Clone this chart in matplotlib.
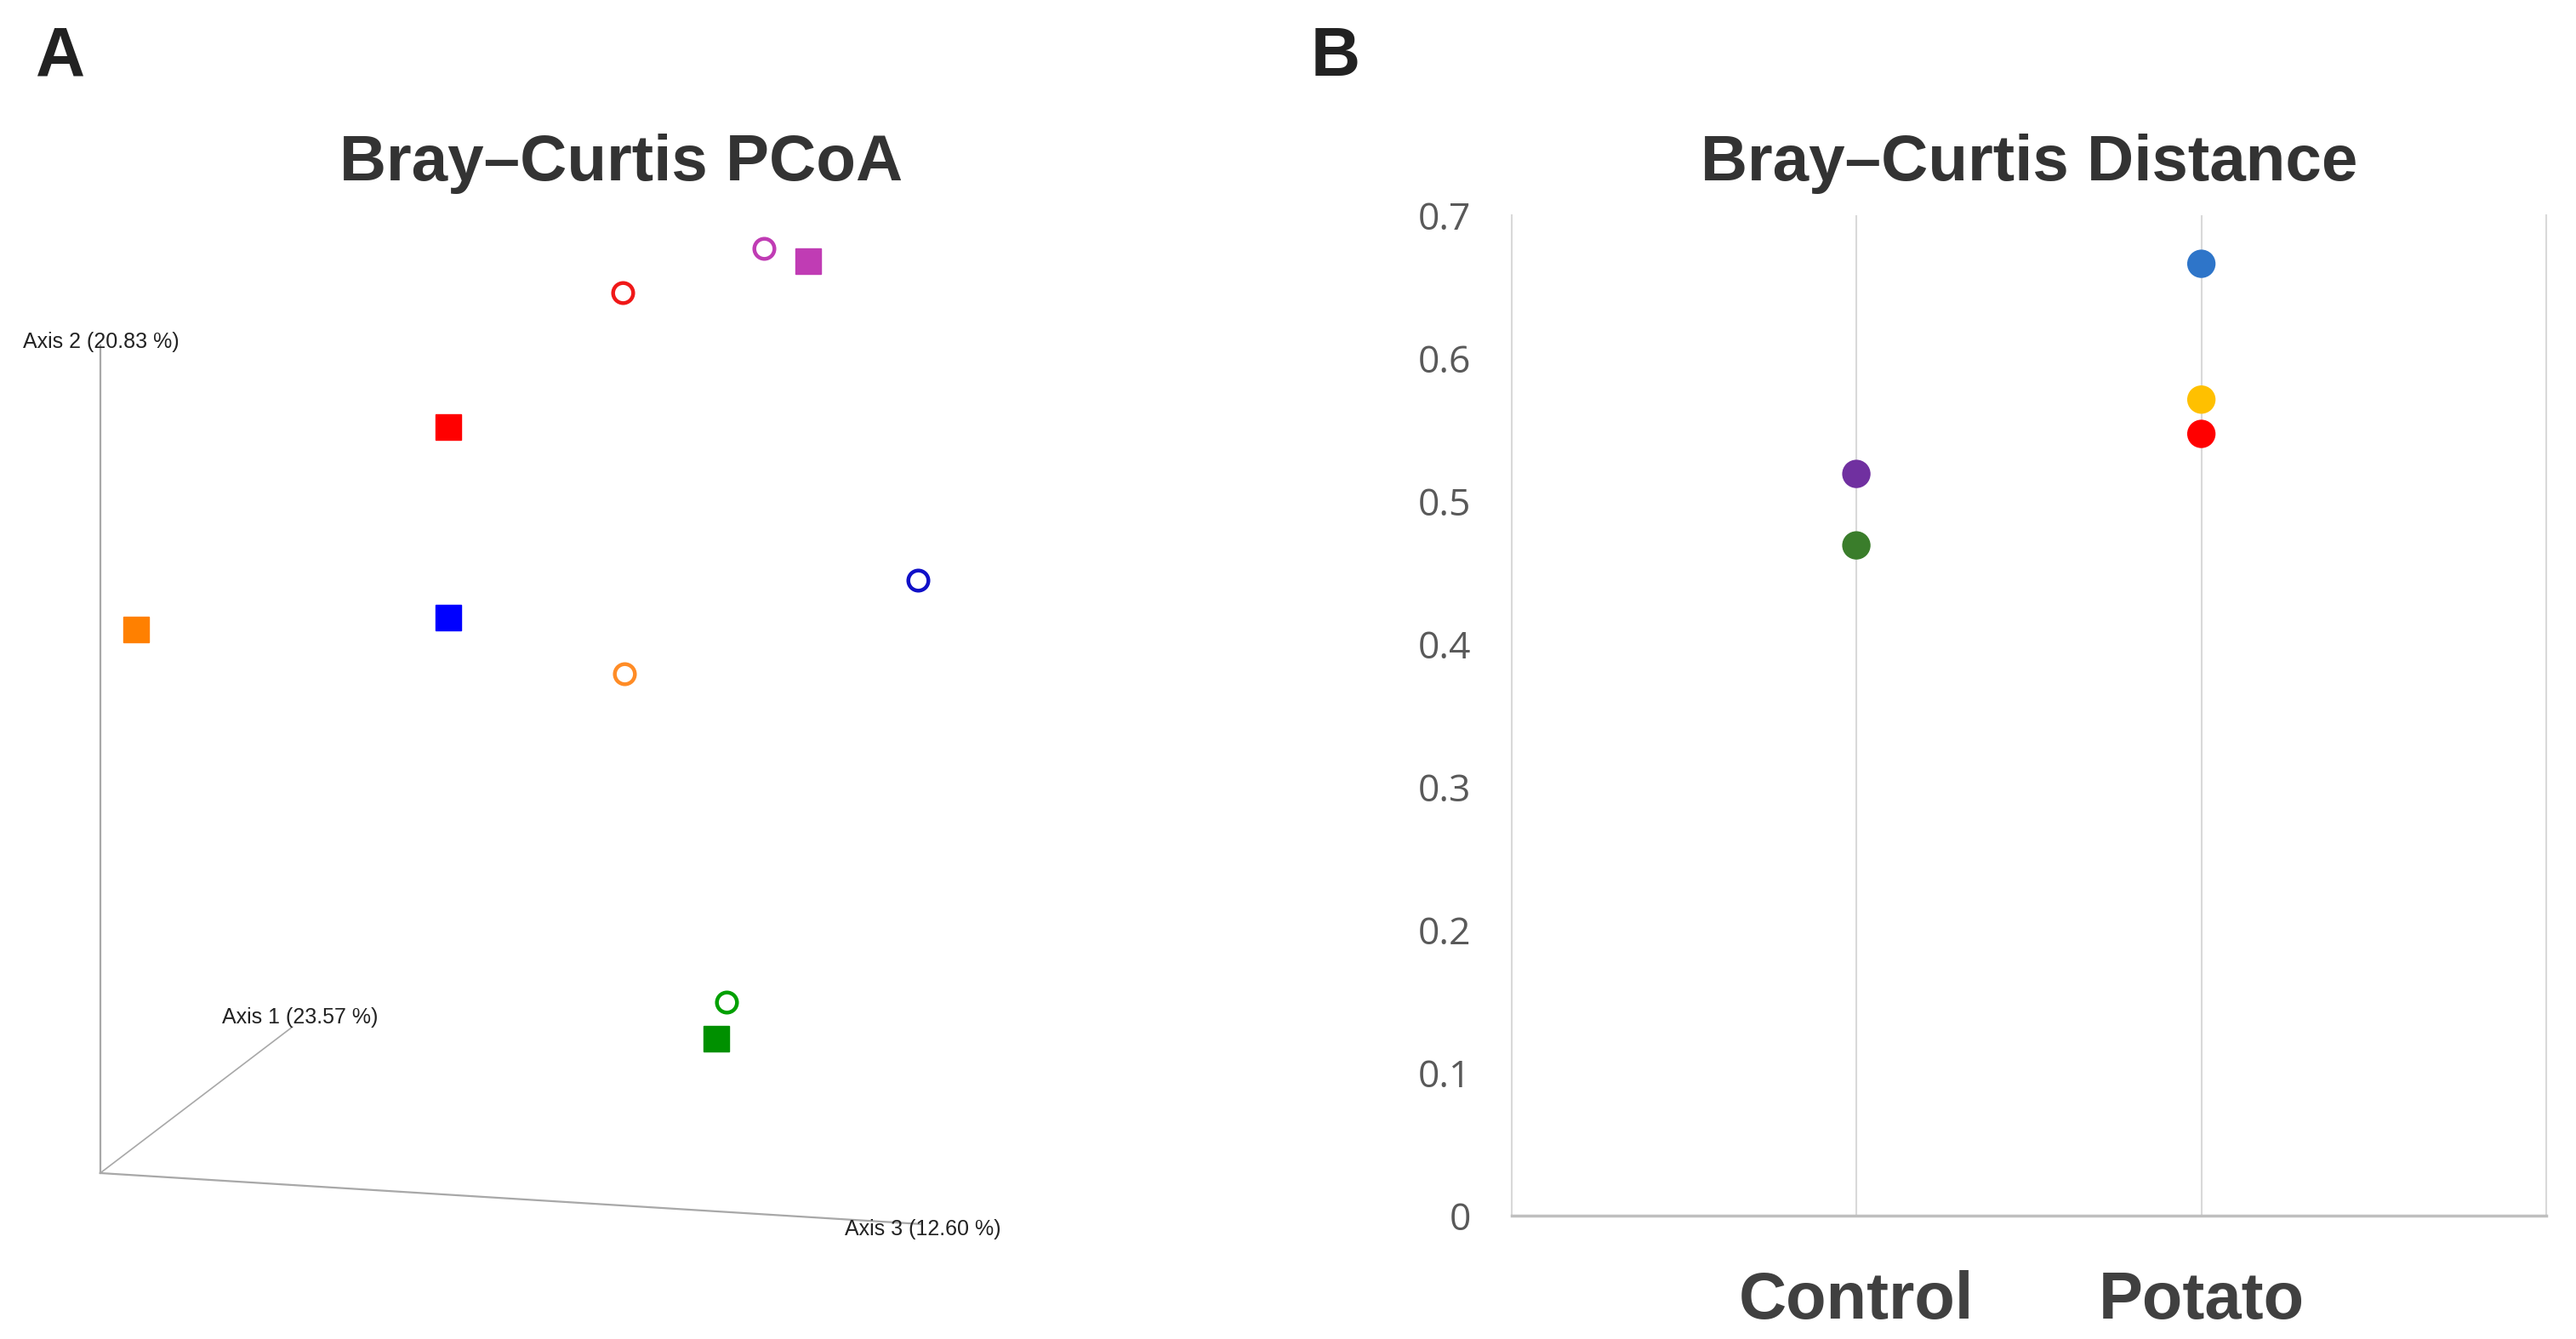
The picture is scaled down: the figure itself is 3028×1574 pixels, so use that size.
import numpy as np
import matplotlib.pyplot as plt

# ---- panel A: PCoA points, projected onto the page (arbitrary units) ----
pcoa_x = [0.808, 0.862, 0.636, 0.424, 0.996, 0.044, 0.424, 0.638, 0.762, 0.750]
pcoa_y = [1.126, 1.110, 1.072, 0.908, 0.722, 0.662, 0.676, 0.608, 0.208, 0.164]
pcoa_marker = ['o', 's', 'o', 's', 'o', 's', 's', 'o', 'o', 's']
pcoa_color = ['#C03CB4', '#C03CB4', '#F01818', '#FF0000', '#1010C8',
              '#FF8000', '#0000FF', '#FF8C26', '#00A000', '#009000']
axis_names = ['Axis 2 (20.83 %)', 'Axis 1 (23.57 %)', 'Axis 3 (12.60 %)']

# ---- panel B: Bray-Curtis distance ----
groups = ['Control', 'Potato']
dist_group = [1, 1, 2, 2, 2]
dist_value = [0.519, 0.469, 0.666, 0.571, 0.547]
dist_color = ['#7030A0', '#3A7D2B', '#2E75C9', '#FFC000', '#FF0000']

fig = plt.figure(figsize=(30.28, 15.74), dpi=100)

# panel A
axA = fig.add_axes([0.0, 0.0184, 0.5, 0.822])
axA.set_xlim(-0.122, 1.446)
axA.set_ylim(-0.172, 1.168)
axA.axis('off')
axcol = '#A8A8A8'
axA.plot([0, 0], [0, 1.008], color=axcol, lw=1.6)
axA.plot([0, 0.234], [0, 0.178], color=axcol, lw=1.2)
axA.plot([0, 0.998], [0, -0.062], color=axcol, lw=1.6)
lab_kw = dict(fontsize=18, family='Liberation Sans', color='#222222')
axA.text(-0.094, 1.012, axis_names[0], ha='left', va='center', **lab_kw)
axA.text(0.148, 0.19, axis_names[1], ha='left', va='center', **lab_kw)
axA.text(0.906, -0.068, axis_names[2], ha='left', va='center', **lab_kw)
for x, y, m, c in zip(pcoa_x, pcoa_y, pcoa_marker, pcoa_color):
    if m == 's':
        axA.plot(x, y, marker='s', ms=21, color=c, mec=c, ls='none')
    else:
        axA.plot(x, y, marker='o', ms=17, mfc='white', mec=c, mew=3.2, ls='none')

# panel B
axB = fig.add_axes([0.5867, 0.0920, 0.4018, 0.7473])
axB.set_xlim(0, 3)
axB.set_ylim(0, 0.7)
for xg in [1, 2]:
    axB.axvline(xg, color='#D9D9D9', lw=1.5, zorder=0)
for s in ['left', 'right']:
    axB.spines[s].set_color('#D9D9D9')
    axB.spines[s].set_linewidth(1.5)
axB.spines['top'].set_visible(False)
axB.spines['bottom'].set_color('#BFBFBF')
axB.spines['bottom'].set_linewidth(2.5)
axB.scatter(dist_group, dist_value, s=24**2, c=dist_color, zorder=3, linewidths=0)
axB.set_yticks(np.arange(0, 0.71, 0.1))
axB.set_yticklabels(['0'] + ['%.1f' % v for v in np.arange(0.1, 0.71, 0.1)],
                    family='Open Sans', fontsize=32, color='#595959')
axB.set_xticks([1, 2])
axB.set_xticklabels(groups, family='Liberation Sans', fontweight='bold',
                    fontsize=56, color='#404040')
axB.tick_params(axis='y', length=0, pad=34)
axB.tick_params(axis='x', length=0, pad=46)

# titles and panel letters
title_kw = dict(family='Liberation Sans', fontweight='bold', fontsize=55,
                color='#333333', ha='center', va='center')
fig.text(0.241, 0.878, 'Bray\u2013Curtis PCoA', **title_kw)
fig.text(0.7876, 0.878, 'Bray\u2013Curtis Distance', **title_kw)
let_kw = dict(family='Liberation Sans', fontweight='bold', fontsize=58,
              color='#222222', ha='center', va='center')
fig.text(0.0236, 0.957, 'A', **let_kw)
fig.text(0.5185, 0.957, 'B', **let_kw)

fig.savefig('out.png', dpi=100)
